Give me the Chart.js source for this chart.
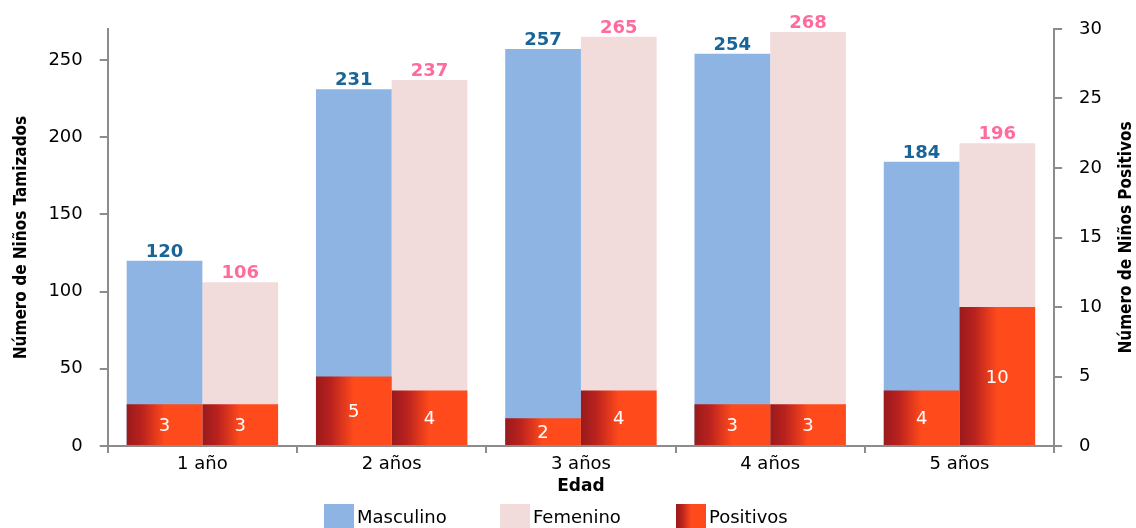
<!DOCTYPE html>
<html>
<head>
<meta charset="utf-8">
<script src="https://cdn.jsdelivr.net/npm/chart.js@4.4.1/dist/chart.umd.min.js"></script>
<style>
  body { margin: 0; background: #fff; }
  canvas { display: block; }
</style>
</head>
<body>
<canvas id="chart" width="1136" height="528"></canvas>
<script>
const edades = ['1 año', '2 años', '3 años', '4 años', '5 años']
const masculino = [120, 231, 257, 254, 184]
const femenino = [106, 237, 265, 268, 196]
const positivosMasculino = [3, 5, 2, 3, 4]
const positivosFemenino = [3, 4, 4, 3, 10]

const FONT = "'DejaVu Sans', Verdana, sans-serif"
const TITLE_FONT = "'DejaVu Sans Condensed', 'DejaVu Sans', sans-serif"
const AXIS_GRAY = '#8C8C8C'

function redGradient(ctx, left, width) {
  const g = ctx.createLinearGradient(left, 0, left + width, 0)
  g.addColorStop(0, '#9A1A1C')
  g.addColorStop(0.2, '#B9221E')
  g.addColorStop(0.5, '#FF4A1C')
  g.addColorStop(1, '#FF4A1C')
  return g
}

// gradient has to follow each bar, so compute it from the category scale
function positivosColor(stack) {
  return function (context) {
    const chart = context.chart
    const xScale = chart.scales.x
    if (!chart.chartArea || !xScale || context.dataIndex === undefined) return '#FF4A1C'
    const center = xScale.getPixelForValue(context.dataIndex)
    const width = xScale.width / edades.length * 0.8 / 2
    const left = stack === 'masc' ? center - width : center
    return redGradient(chart.ctx, left, width)
  }
}

const valueLabels = {
  id: 'valueLabels',
  afterDatasetsDraw(chart) {
    const ctx = chart.ctx
    ctx.save()
    ctx.textAlign = 'center'
    chart.data.datasets.forEach((ds, i) => {
      const meta = chart.getDatasetMeta(i)
      meta.data.forEach((bar, j) => {
        const value = ds.data[j]
        if (ds.yAxisID === 'y2') {
          ctx.font = '18px ' + FONT
          ctx.fillStyle = '#ffffff'
          ctx.textBaseline = 'middle'
          ctx.fillText(value, bar.x, (bar.y + bar.base) / 2 + 2)
        } else {
          ctx.font = 'bold 18px ' + FONT
          ctx.fillStyle = ds.labelColor
          ctx.textBaseline = 'alphabetic'
          ctx.fillText(value, bar.x, bar.y - 4)
        }
      })
    })
    ctx.restore()
  }
}

// right title reads bottom-to-top and the legend sits tight under "Edad"
const extras = {
  id: 'extras',
  afterDraw(chart) {
    const ctx = chart.ctx
    const area = chart.chartArea
    ctx.save()
    ctx.translate(1127, (area.top + area.bottom) / 2)
    ctx.rotate(-Math.PI / 2)
    ctx.font = 'bold 17px ' + TITLE_FONT
    ctx.fillStyle = '#000'
    ctx.textAlign = 'center'
    ctx.textBaseline = 'middle'
    ctx.fillText('Número de Niños Positivos', 0, 0)
    ctx.restore()

    const items = chart.data.datasets.filter(ds => ds.legend)
    ctx.save()
    ctx.font = '18px ' + FONT
    ctx.textBaseline = 'middle'
    ctx.textAlign = 'left'
    items.forEach((ds, i) => {
      const x = 324 + i * 176
      const y = 504
      ctx.fillStyle = ds.yAxisID === 'y2' ? redGradient(ctx, x, 30) : ds.backgroundColor
      ctx.fillRect(x, y, 30, 24)
      ctx.fillStyle = '#000'
      ctx.fillText(ds.label, x + 33, y + 14)
    })
    ctx.restore()
  }
}

new Chart(document.getElementById('chart'), {
  type: 'bar',
  data: {
    labels: edades,
    datasets: [{
      label: 'Masculino',
      data: masculino,
      yAxisID: 'y',
      stack: 'masc',
      order: 1,
      backgroundColor: '#8EB4E3',
      labelColor: '#1A6597',
      legend: true
    }, {
      label: 'Femenino',
      data: femenino,
      yAxisID: 'y',
      stack: 'fem',
      order: 1,
      backgroundColor: '#F2DCDB',
      labelColor: '#FF6C9C',
      legend: true
    }, {
      label: 'Positivos',
      data: positivosMasculino,
      yAxisID: 'y2',
      stack: 'masc',
      order: 0,
      backgroundColor: positivosColor('masc'),
      legend: true
    }, {
      label: 'Positivos',
      data: positivosFemenino,
      yAxisID: 'y2',
      stack: 'fem',
      order: 0,
      backgroundColor: positivosColor('fem'),
      legend: false
    }]
  },
  options: {
    responsive: false,
    animation: false,
    devicePixelRatio: 1,
    categoryPercentage: 0.8,
    barPercentage: 1,
    layout: {
      padding: { left: 4, right: 17, top: 29, bottom: 31 }
    },
    plugins: {
      legend: { display: false },
      tooltip: { enabled: false }
    },
    scales: {
      x: {
        stacked: true,
        grid: {
          drawOnChartArea: false,
          tickLength: 7,
          color: AXIS_GRAY,
          lineWidth: 2
        },
        border: { color: AXIS_GRAY, width: 2 },
        ticks: {
          padding: 1,
          color: '#000',
          font: { family: FONT, size: 18 }
        },
        title: {
          display: true,
          text: 'Edad',
          color: '#000',
          padding: { top: 0, bottom: 0 },
          font: { family: FONT, size: 17, weight: 'bold' }
        }
      },
      y: {
        position: 'left',
        stacked: false,
        min: 0,
        max: 270,
        grid: {
          drawOnChartArea: false,
          tickLength: 8,
          color: AXIS_GRAY,
          lineWidth: 2
        },
        border: { color: AXIS_GRAY, width: 2 },
        ticks: {
          stepSize: 50,
          padding: 17,
          color: '#000',
          font: { family: FONT, size: 18 }
        },
        // the axis runs up to 270 but only the round steps get a tick
        afterBuildTicks(scale) {
          scale.ticks = scale.ticks.filter(t => t.value % 50 === 0)
        },
        title: {
          display: true,
          text: 'Número de Niños Tamizados',
          color: '#000',
          padding: { top: 7, bottom: 0 },
          font: { family: TITLE_FONT, size: 17, weight: 'bold' }
        }
      },
      y2: {
        position: 'right',
        stacked: false,
        min: 0,
        max: 30,
        grid: {
          drawOnChartArea: false,
          tickLength: 8,
          color: AXIS_GRAY,
          lineWidth: 2
        },
        border: { color: AXIS_GRAY, width: 2 },
        ticks: {
          stepSize: 5,
          padding: 17,
          color: '#000',
          font: { family: FONT, size: 18 }
        }
      }
    }
  },
  plugins: [valueLabels, extras]
})
</script>
</body>
</html>
